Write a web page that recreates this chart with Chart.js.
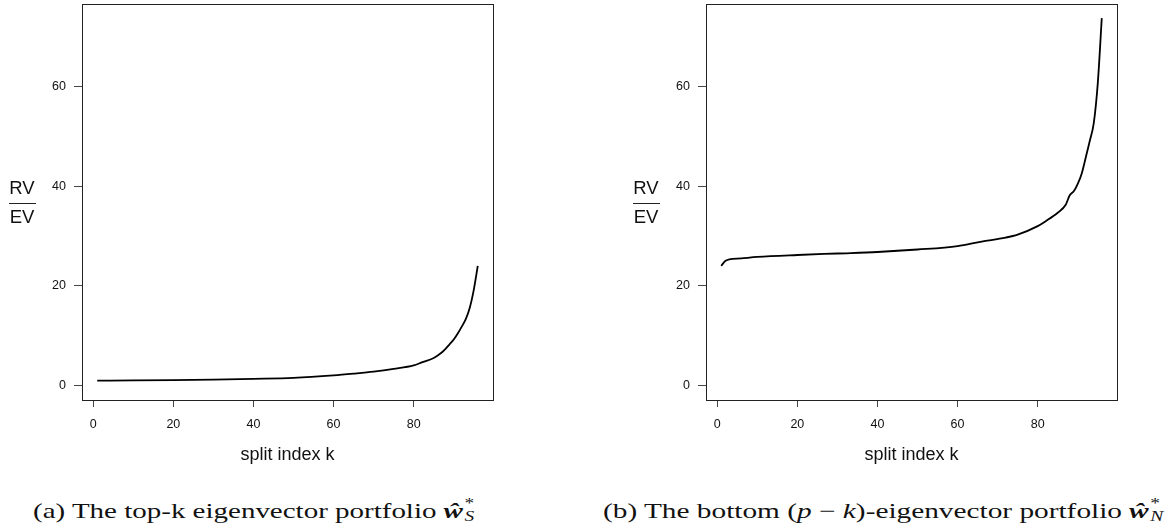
<!DOCTYPE html>
<html>
<head>
<meta charset="utf-8">
<script src="https://cdn.jsdelivr.net/npm/chart.js@4.4.0/dist/chart.umd.min.js"></script>
<style>
  body { margin: 0; background: #fff; width: 1171px; height: 527px; position: relative; overflow: hidden;
         font-family: "Liberation Sans", Arial, sans-serif; }
  canvas { position: absolute; top: 0; }
  .frac { position: absolute; width: 28px; text-align: center; font-size: 18.5px; line-height: 20px; color: #111; }
  .bar { position: absolute; height: 1px; width: 27px; background: #222; }
  .cap { position: absolute; top: 497px; font-family: "Liberation Serif", serif; font-size: 21px; line-height: 24px;
         white-space: nowrap; transform-origin: 0 0; color: #111; }
  .ss { position: relative; display: inline-block; width: 12px; height: 21px; margin-left: 1px; }
  .ss .sp { position: absolute; left: 0; top: 0; font-size: 14px; line-height: 14px; }
  .ss .sb { position: absolute; left: 0; top: 13px; font-size: 14px; line-height: 14px; font-style: italic; }
</style>
</head>
<body>
<canvas id="left" width="585" height="470" style="left:0"></canvas>
<canvas id="right" width="586" height="470" style="left:585px"></canvas>

<div class="frac" style="left:8px;top:178px">RV</div>
<div class="bar" style="left:9px;top:203px"></div>
<div class="frac" style="left:8px;top:207px">EV</div>

<div class="frac" style="left:632px;top:178px">RV</div>
<div class="bar" style="left:633px;top:203px"></div>
<div class="frac" style="left:632px;top:207px">EV</div>

<div class="cap" id="capA" style="left:33px">(a) The top-k eigenvector portfolio <b><i>ŵ</i></b><span class="ss"><span class="sp">*</span><span class="sb">S</span></span></div>
<div class="cap" id="capB" style="left:603px">(b) The bottom (<i>p</i> − <i>k</i>)-eigenvector portfolio <b><i>ŵ</i></b><span class="ss"><span class="sp">*</span><span class="sb">N</span></span></div>

<script>
// split index k and RV/EV ratio
const kTop = [1, 10, 20, 30, 40, 50, 60, 65, 70, 75, 80, 82, 85, 86, 87, 88, 89, 90, 91, 92, 93, 94, 95, 96];
const ratioTop = [0.95, 0.98, 1.05, 1.15, 1.3, 1.5, 2.0, 2.35, 2.75, 3.3, 4.0, 4.6, 5.5, 6.0, 6.6, 7.4, 8.3, 9.2, 10.4, 11.8, 13.3, 15.6, 19.2, 24.0];

const kBottom = [1, 2, 3, 6, 10, 20, 30, 40, 50, 60, 66, 72, 75, 80, 82, 85, 87, 88, 89, 90, 91, 92, 93, 94, 95, 96];
const ratioBottom = [24.0, 25.0, 25.3, 25.5, 25.8, 26.2, 26.5, 26.8, 27.3, 28.0, 28.9, 29.7, 30.3, 32.0, 33.0, 34.7, 36.3, 38.2, 39.0, 40.5, 42.6, 45.8, 49.1, 52.7, 60.7, 73.8];

const xTicks = [0, 20, 40, 60, 80];
const yTicks = [0, 20, 40, 60];

const sansFont = "'Liberation Sans', Arial, sans-serif";

// R style box round the plot region
const boxPlugin = {
    id: 'box',
    afterDraw(chart) {
        const a = chart.chartArea;
        const ctx = chart.ctx;
        ctx.save();
        ctx.strokeStyle = '#222';
        ctx.lineWidth = 1;
        ctx.strokeRect(a.left + 0.5, a.top + 0.5, a.right - a.left, a.bottom - a.top);
        ctx.restore();
    }
};

function noPadding(s) {
    s.paddingTop = 0;
    s.paddingBottom = 0;
    s.paddingLeft = 0;
    s.paddingRight = 0;
}

function makeChart(id, ks, vals, padLeft, padRight) {
    const points = ks.map((k, i) => ({ x: k, y: vals[i] }));
    return new Chart(document.getElementById(id), {
        type: 'line',
        data: {
            datasets: [{
                data: points,
                borderColor: '#000',
                borderWidth: 1.8,
                pointRadius: 0,
                fill: false,
                cubicInterpolationMode: 'monotone'
            }]
        },
        options: {
            responsive: false,
            animation: false,
            layout: { padding: { left: padLeft, right: padRight, top: 4, bottom: 0 } },
            plugins: { legend: { display: false }, tooltip: { enabled: false } },
            scales: {
                x: {
                    type: 'linear',
                    min: -2.8,
                    max: 99.8,
                    afterBuildTicks: s => { s.ticks = xTicks.map(v => ({ value: v })); },
                    afterFit: s => { s.height = 70; noPadding(s); },
                    grid: { drawOnChartArea: false, drawTicks: true, tickLength: 7, color: '#444' },
                    border: { display: false },
                    ticks: { font: { family: sansFont, size: 12.5 }, color: '#111', padding: 10, maxRotation: 0, autoSkip: false },
                    title: { display: true, text: 'split index k', font: { family: sansFont, size: 18 }, color: '#111',
                             padding: { top: 0, bottom: 4 } }
                },
                y: {
                    type: 'linear',
                    min: -2.95,
                    max: 76.65,
                    afterBuildTicks: s => { s.ticks = yTicks.map(v => ({ value: v })); },
                    afterFit: s => { s.width = 42; noPadding(s); },
                    grid: { drawOnChartArea: false, drawTicks: true, tickLength: 8, color: '#444' },
                    border: { display: false },
                    ticks: { font: { family: sansFont, size: 12.5 }, color: '#111', padding: 8 }
                }
            }
        },
        plugins: [boxPlugin]
    });
}

makeChart('left', kTop, ratioTop, 40, 92);
makeChart('right', kBottom, ratioBottom, 79, 54);

// stretch the captions to the width of the LaTeX captions
function fitCaption(id, target) {
    const el = document.getElementById(id);
    const w = el.getBoundingClientRect().width;
    el.style.transform = 'scaleX(' + (target / w) + ')';
}
fitCaption('capA', 448);
fitCaption('capB', 564);
</script>
</body>
</html>
